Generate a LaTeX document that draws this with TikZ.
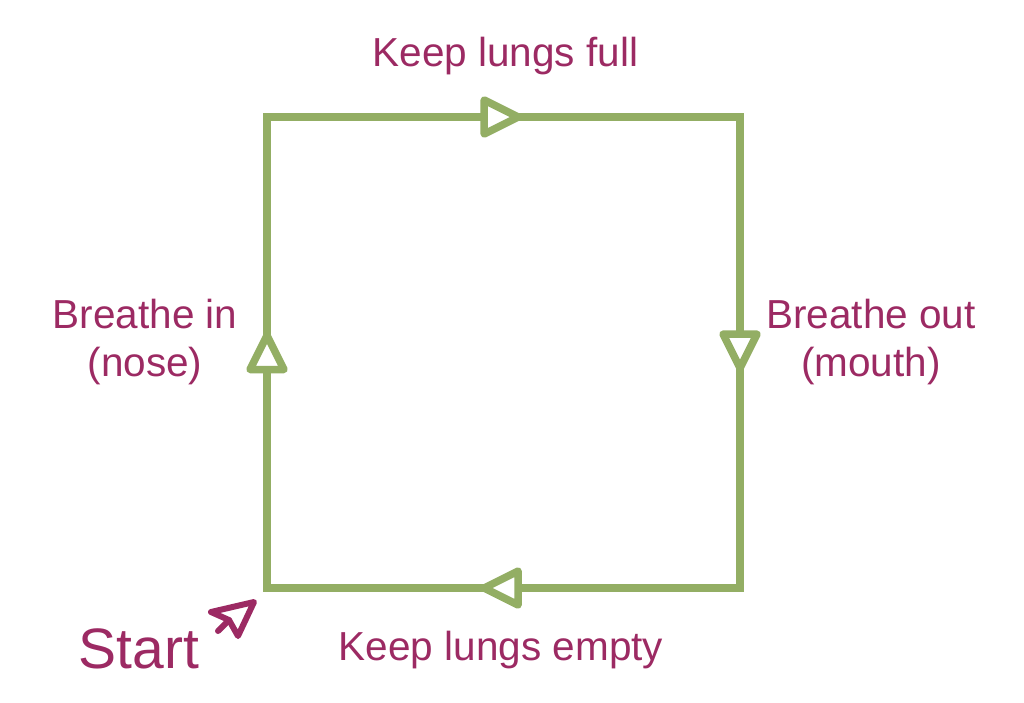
\documentclass[tikz,border=0pt]{standalone}
\usepackage{fontspec}
\setmainfont{Liberation Sans}
\definecolor{cyclegreen}{HTML}{93AE64}
\definecolor{labelpurple}{HTML}{9C2A63}
\tikzset{
  cycleline/.style={draw=cyclegreen,line width=7.5pt,line join=miter},
  flowtip/.pic={\draw[cyclegreen,line width=7.5pt,line join=round,fill=white] (-17,-17) -- (17,0) -- (-17,17) -- cycle;},
  steplabel/.style={text=labelpurple,font=\fontsize{40.5}{48}\selectfont,align=center,anchor=base},
  pointer/.style={draw=labelpurple,line width=6pt,line join=round,line cap=round},
}
\begin{document}
\begin{tikzpicture}[x=1pt,y=-1pt]
  \useasboundingbox (0,0) rectangle (1024,702);
  % corners of the cycle
  \coordinate (bl) at (267,588);
  \coordinate (tl) at (267,117);
  \coordinate (tr) at (740,117);
  \coordinate (br) at (740,588);
  \draw[cycleline] (bl) -- (tl) -- (tr) -- (br) -- cycle;
  \path (bl) -- (tl) pic[pos=0.5,sloped,allow upside down] {flowtip};
  \path (tl) -- (tr) pic[pos=0.495,sloped,allow upside down] {flowtip};
  \path (tr) -- (br) pic[pos=0.497,sloped,allow upside down] {flowtip};
  \path (br) -- (bl) pic[pos=0.505,sloped,allow upside down] {flowtip};
  % labels
  \node[steplabel] (full) at (505.5,66.5) {Keep lungs full};
  \node[steplabel] (empty) at (501,660) {Keep lungs empty};
  \node[steplabel,anchor=north] (inhale) at (145,296) {Breathe in\\(nose)};
  \node[steplabel,anchor=north] (exhale) at (871,296) {Breathe out\\(mouth)};
  \node[steplabel,font=\fontsize{57}{60}\selectfont] (start) at (139,668) {Start};
  % start pointer
  \coordinate (tip) at (254,602);
  \coordinate (wingup) at (211,612);
  \coordinate (notch) at (229,620);
  \coordinate (winglow) at (238,636);
  \coordinate (tail) at (218,631);
  \draw[pointer] (tail) -- (notch);
  \draw[pointer] (notch) -- (wingup) -- (tip) -- (winglow) -- cycle;
\end{tikzpicture}
\end{document}
